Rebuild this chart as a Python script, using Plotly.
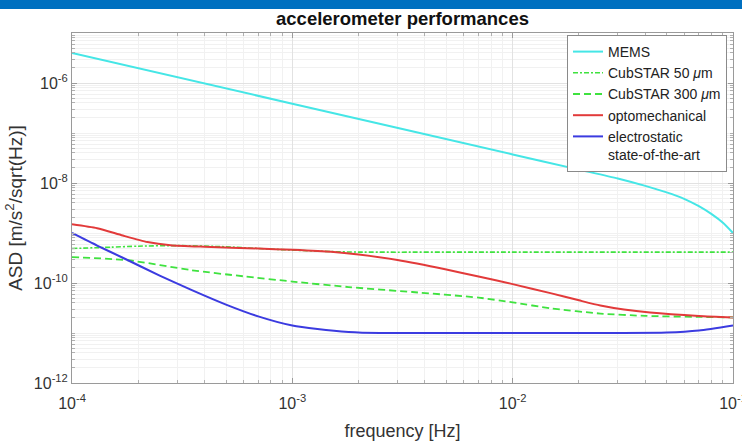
import plotly.graph_objects as go

# ---------------- data ----------------
mems_f = [1e-4, 1e-3, 1e-2, 2e-2, 3e-2, 4e-2, 5e-2, 6e-2, 7e-2, 8e-2, 9e-2, 1e-1]
mems_v = [4.0e-6, 3.85e-7, 3.73e-8, 1.85e-8, 1.23e-8, 8.75e-9, 6.5e-9, 4.83e-9, 3.44e-9, 2.38e-9, 1.6e-9, 1.0e-9]

cub50_f = [1e-4, 1.5e-4, 2e-4, 3e-4, 5e-4, 7e-4, 1e-3, 1.5e-3, 2e-3, 1e-2, 1e-1]
cub50_v = [4.9e-10, 5.2e-10, 5.45e-10, 5.6e-10, 5.3e-10, 4.9e-10, 4.55e-10, 4.25e-10, 4.15e-10, 4.15e-10, 4.15e-10]

cub300_f = [1e-4, 1.8e-4, 3.5e-4, 6e-4, 1e-3, 1.8e-3, 3.5e-3, 7e-3, 1e-2, 1.5e-2, 2.5e-2, 4e-2, 7e-2, 1e-1]
cub300_v = [3.3e-10, 2.85e-10, 1.8e-10, 1.36e-10, 1.07e-10, 8.3e-11, 6.6e-11, 5.1e-11, 4.1e-11, 3.1e-11, 2.45e-11, 2.2e-11, 2.1e-11, 2.05e-11]

opto_f = [1e-4, 1.3e-4, 1.7e-4, 2.2e-4, 2.8e-4, 4e-4, 7e-4, 1e-3, 1.5e-3, 2e-3, 3e-3, 5e-3, 7e-3,
          1e-2, 1.5e-2, 2e-2, 2.5e-2, 3.2e-2, 4.2e-2, 7e-2, 1e-1]
opto_v = [1.5e-9, 1.25e-9, 8.9e-10, 6.6e-10, 5.7e-10, 5.3e-10, 4.9e-10, 4.6e-10, 4.2e-10, 3.7e-10, 2.88e-10, 1.86e-10, 1.35e-10,
          9.5e-11, 6.2e-11, 4.5e-11, 3.55e-11, 2.95e-11, 2.57e-11, 2.19e-11, 2.04e-11]

elec_f = [1e-4, 1.3e-4, 1.7e-4, 2.5e-4, 3.5e-4, 5e-4, 7e-4, 1e-3, 1.3e-3, 1.8e-3, 2.5e-3, 1e-2, 3e-2, 5e-2, 7e-2, 1e-1]
elec_v = [1.0e-9, 5.6e-10, 3.2e-10, 1.41e-10, 7.2e-11, 3.7e-11, 2.15e-11, 1.41e-11, 1.2e-11, 1.05e-11, 1.0e-11, 1.0e-11, 1.0e-11, 1.02e-11, 1.12e-11, 1.41e-11]

series_names = ["MEMS", "CubSTAR 50 <i>μ</i>m", "CubSTAR 300 <i>μ</i>m", "optomechanical",
                "electrostatic<br>state-of-the-art"]

x_tick_vals = [1e-4, 1e-3, 1e-2, 1e-1]
x_tick_text = ["10<sup>-4</sup>", "10<sup>-3</sup>", "10<sup>-2</sup>", "10<sup>-1</sup>"]
y_tick_vals = [1e-12, 1e-10, 1e-8, 1e-6]
y_tick_text = ["10<sup>-12</sup>", "10<sup>-10</sup>", "10<sup>-8</sup>", "10<sup>-6</sup>"]

# ---------------- figure ----------------
FONT = "Liberation Sans, Arial, Helvetica, sans-serif"
fig = go.Figure()

styles = [
    dict(color="#45e6e6", width=2, dash="solid"),
    dict(color="#3fe23f", width=1.6, dash="5px,2px,2px,2px"),
    dict(color="#3fe23f", width=1.8, dash="7px,4px"),
    dict(color="#e23a3a", width=2, dash="solid"),
    dict(color="#3b3be0", width=2, dash="solid"),
]
data = [(mems_f, mems_v), (cub50_f, cub50_v), (cub300_f, cub300_v), (opto_f, opto_v), (elec_f, elec_v)]

for (f, v), name, st in zip(data, series_names, styles):
    fig.add_trace(go.Scatter(x=f, y=v, mode="lines", name=name,
                             line=dict(color=st["color"], width=st["width"], dash=st["dash"],
                                       shape="spline", smoothing=0.6)))

axis_common = dict(
    type="log", showline=True, linecolor="#9a9a9a", linewidth=1, mirror="allticks",
    ticks="inside", ticklen=5, tickcolor="#9a9a9a", showgrid=True, gridcolor="#e2e2e2", gridwidth=1,
    zeroline=False, automargin=False, tickmode="array", ticklabeloverflow="allow",
    tickfont=dict(family=FONT, size=16, color="#333333"),
    minor=dict(ticks="inside", ticklen=3, tickcolor="#b0b0b0", showgrid=True,
               gridcolor="#f1f1f1", gridwidth=1, dtick="D1"),
)

fig.update_layout(
    width=742, height=441,
    margin=dict(l=72, r=9, t=33, b=58),
    paper_bgcolor="white", plot_bgcolor="white",
    font=dict(family=FONT, color="#333333"),
    title=dict(text="<b>accelerometer performances</b>", x=0.5, xref="paper", xanchor="center",
               y=1 - 19 / 441, yref="container", yanchor="middle",
               font=dict(family=FONT, size=18.5, color="#111111")),
    xaxis=dict(axis_common, range=[-4, -0.99999], tickvals=x_tick_vals, ticktext=x_tick_text,
               ticklabelstandoff=6,
               title=dict(text="frequency [Hz]", font=dict(family=FONT, size=18, color="#333333"),
                          standoff=14)),
    yaxis=dict(axis_common, range=[-12, -5], tickvals=y_tick_vals, ticktext=y_tick_text,
               title=dict(text="ASD [m/s<sup>2</sup>/sqrt(Hz)]",
                          font=dict(family=FONT, size=19, color="#333333"), standoff=6)),
    legend=dict(x=(727 - 72) / 661, xanchor="right", y=(383 - 35) / 350, yanchor="top",
                bgcolor="white", bordercolor="#8a8a8a", borderwidth=1,
                font=dict(family=FONT, size=14, color="#222222"), valign="top",
                tracegroupgap=0, itemwidth=30),
    shapes=[dict(type="rect", xref="paper", yref="paper", x0=-0.2, x1=1.2,
                 y0=(383 - 9) / 350, y1=(383 + 5) / 350, fillcolor="#0070c0", line=dict(width=0),
                 layer="above")],
    showlegend=True,
)

fig.write_html("out.html", config={"displayModeBar": False},
               post_script="document.body.style.margin='0';")
